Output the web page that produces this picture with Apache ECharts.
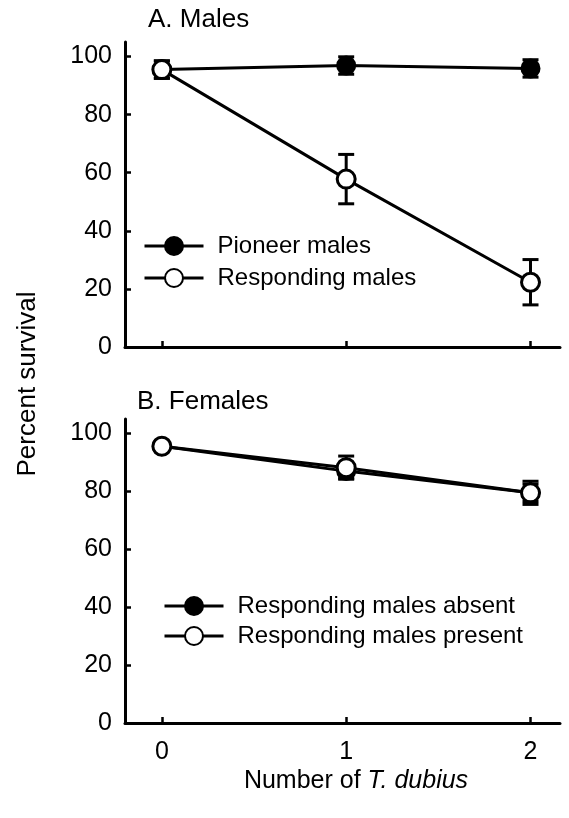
<!DOCTYPE html>
<html><head><meta charset="utf-8">
<script src="https://cdn.jsdelivr.net/npm/echarts@6/dist/echarts.min.js"></script>
<style>html,body{margin:0;padding:0;background:#fff}#c{width:569px;height:818px}</style>
</head><body><div id="c"></div>
<script>
const xValues = [0, 1, 2];
const xTickLabels = ['0', '1', '2'];
const yTickValues = [0, 20, 40, 60, 80, 100];
const pioneerMales = [95.5, 96.9, 95.9];
const pioneerMalesErr = [3, 3, 3];
const respondingMales = [95.5, 57.8, 22.3];
const respondingMalesErr = [3, 8.5, 7.8];
const femalesAbsent = [95.6, 87, 79.5];
const femalesAbsentErr = [1.5, 2.5, 3];
const femalesPresent = [95.6, 88.2, 79.5];
const femalesPresentErr = [1.5, 4, 4];
const seriesNames = ['Pioneer males', 'Responding males', 'Responding males absent', 'Responding males present'];

const FONT = 'Liberation Sans, Arial, Helvetica, sans-serif';
const pts = (vals) => xValues.map((x, i) => [x, vals[i]]);
const errs = (vals, e) => xValues.map((x, i) => [x, vals[i] - e[i], vals[i] + e[i]]);

function errRender(params, api) {
  const x = api.value(0), lo = api.value(1), hi = api.value(2);
  const a = api.coord([x, lo]), b = api.coord([x, hi]);
  const hw = 8, st = {stroke: '#000', lineWidth: 3};
  return {type: 'group', children: [
    {type: 'line', shape: {x1: a[0], y1: a[1], x2: b[0], y2: b[1]}, style: st},
    {type: 'line', shape: {x1: a[0] - hw, y1: a[1], x2: a[0] + hw, y2: a[1]}, style: st},
    {type: 'line', shape: {x1: b[0] - hw, y1: b[1], x2: b[0] + hw, y2: b[1]}, style: st}
  ]};
}

function xAxis(idx, showLabels) {
  return {
    type: 'value', gridIndex: idx, min: -0.2, max: 2.16,
    axisLine: {onZero: false, lineStyle: {color: '#000', width: 3}},
    axisTick: {inside: true, length: 6, lineStyle: {color: '#000', width: 2.5}, customValues: xValues},
    axisLabel: {show: showLabels, customValues: xValues, margin: 17, color: '#000', fontSize: 25, fontFamily: FONT,
      formatter: (v) => xTickLabels[xValues.indexOf(Math.round(v))]},
    splitLine: {show: false}
  };
}
function yAxis(idx) {
  return {
    type: 'value', gridIndex: idx, min: 0, max: 105,
    axisLine: {onZero: false, lineStyle: {color: '#000', width: 3}},
    axisTick: {inside: true, length: 6, lineStyle: {color: '#000', width: 2.5}, customValues: yTickValues},
    axisLabel: {customValues: yTickValues, margin: 13, color: '#000', fontSize: 25, fontFamily: FONT},
    splitLine: {show: false}
  };
}
const filled = {color: '#000', borderColor: '#000', borderWidth: 2};
const open = {color: '#fff', borderColor: '#000', borderWidth: 3};
function lineSeries(name, idx, vals, style, z) {
  return {type: 'line', name: name, xAxisIndex: idx, yAxisIndex: idx, data: pts(vals),
    symbol: 'circle', symbolSize: 18, showSymbol: true, z: z,
    lineStyle: {color: '#000', width: 3}, itemStyle: style};
}
function errSeries(idx, vals, e) {
  return {type: 'custom', xAxisIndex: idx, yAxisIndex: idx, data: errs(vals, e), renderItem: errRender, z: 1,
    encode: {x: 0, y: [1, 2]}, silent: true};
}
const legendText = {fontSize: 24, color: '#000', fontFamily: FONT, lineHeight: 24, padding: [0, 0, 0, 9]};
const legendLine = {color: '#000', width: 3};

const chart = echarts.init(document.getElementById('c'), null, {renderer: 'canvas'});
chart.setOption({
  animation: false,
  backgroundColor: '#fff',
  grid: [
    {left: 125, right: 9, top: 42, height: 305},
    {left: 125, right: 9, top: 419, height: 304}
  ],
  xAxis: [xAxis(0, false), xAxis(1, true)],
  yAxis: [yAxis(0), yAxis(1)],
  legend: [
    {data: [seriesNames[0], seriesNames[1]], orient: 'vertical', left: 138, top: 229, itemWidth: 59, itemHeight: 22.5,
      itemGap: 8, textStyle: legendText, lineStyle: legendLine, selectedMode: false},
    {data: [seriesNames[2], seriesNames[3]], orient: 'vertical', left: 158, top: 589, itemWidth: 59, itemHeight: 22.5,
      itemGap: 6, textStyle: legendText, lineStyle: legendLine, selectedMode: false}
  ],
  graphic: [
    {type: 'text', left: 148, top: 7, style: {text: 'A. Males', font: '26px ' + FONT, fill: '#000'}},
    {type: 'text', left: 137, top: 389, style: {text: 'B. Females', font: '26px ' + FONT, fill: '#000'}},
    {type: 'text', x: 28, y: 384, rotation: Math.PI / 2,
      style: {text: 'Percent survival', font: '26px ' + FONT, fill: '#000', align: 'center', verticalAlign: 'middle'}},
    {type: 'text', x: 356, y: 781,
      style: {text: '{n|Number of }{i|T. dubius}', align: 'center', verticalAlign: 'middle',
        rich: {n: {font: '25px ' + FONT, fill: '#000'}, i: {font: 'italic 25px ' + FONT, fill: '#000'}}}}
  ],
  series: [
    errSeries(0, pioneerMales, pioneerMalesErr),
    errSeries(0, respondingMales, respondingMalesErr),
    errSeries(1, femalesAbsent, femalesAbsentErr),
    errSeries(1, femalesPresent, femalesPresentErr),
    lineSeries(seriesNames[0], 0, pioneerMales, filled, 2),
    lineSeries(seriesNames[1], 0, respondingMales, open, 3),
    lineSeries(seriesNames[2], 1, femalesAbsent, filled, 2),
    lineSeries(seriesNames[3], 1, femalesPresent, open, 3)
  ]
});
</script></body></html>
